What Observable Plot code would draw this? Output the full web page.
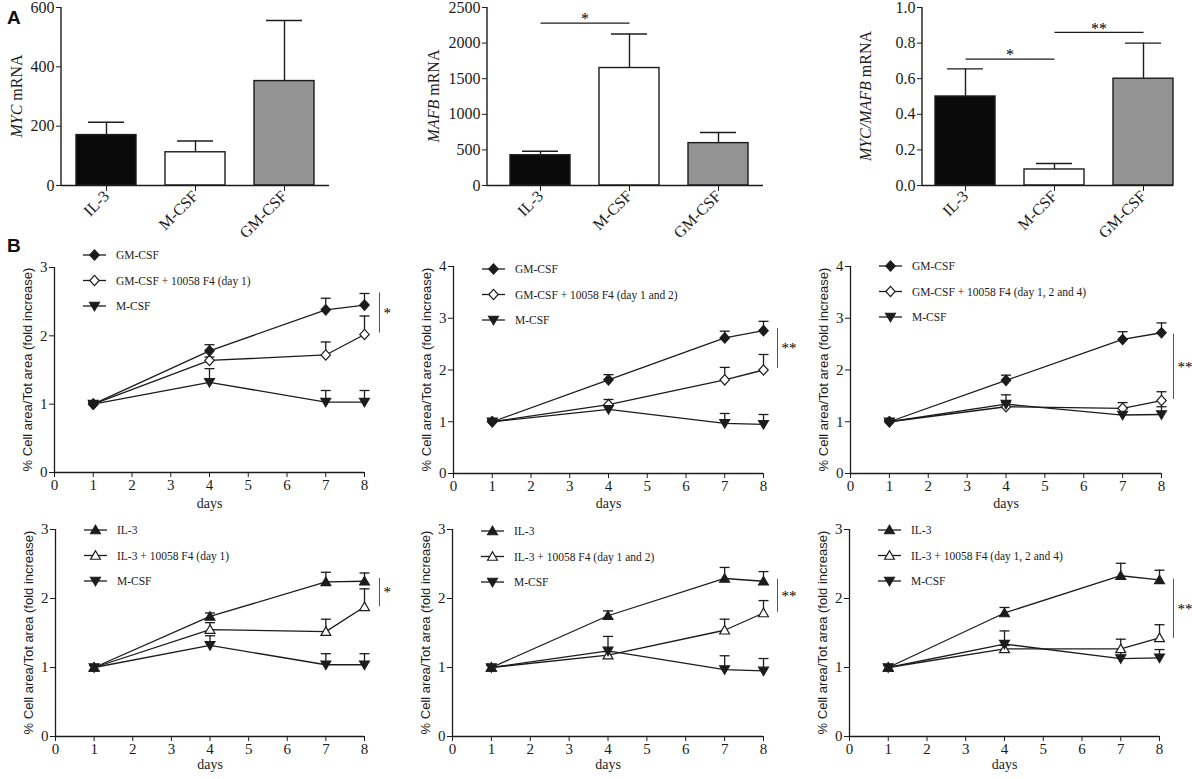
<!DOCTYPE html>
<html><head><meta charset="utf-8">
<script src="https://cdn.jsdelivr.net/npm/d3@7"></script>
<script src="https://cdn.jsdelivr.net/npm/@observablehq/plot@0.6"></script>
<style>
body{margin:0;background:#fff;}
#fig{position:relative;width:1192px;height:779px;overflow:hidden;background:#fff;}
.letter{position:absolute;font:bold 19px "Liberation Sans",Arial,sans-serif;color:#111;line-height:1;}
</style></head><body><div id="fig"></div><script>
// ---------------- DATA ----------------
const cats = ["IL-3", "M-CSF", "GM-CSF"];
const catFill = ["#0a0a0a", "#ffffff", "#949494"];
const mycMean = [170, 112, 352];
const mycSem = [43, 38, 204];
const mafbMean = [425, 1650, 595];
const mafbSem = [55, 478, 150];
const ratioMean = [0.50, 0.09, 0.60];
const ratioSem = [0.155, 0.034, 0.20];
const mycTicks = [0, 200, 400, 600];
const mafbTicks = [0, 500, 1000, 1500, 2000, 2500];
const ratioTicks = [0, 0.2, 0.4, 0.6, 0.8, 1.0];

const days = [1, 4, 7, 8];
const dayTicks = [0, 1, 2, 3, 4, 5, 6, 7, 8];
const yTicks3 = [0, 1, 2, 3];
const yTicks4 = [0, 1, 2, 3, 4];

// panel B1: GM-CSF, day 1
const p1Names = ["GM-CSF", "GM-CSF + 10058 F4 (day 1)", "M-CSF"];
const p1MainMean = [1, 1.78, 2.38, 2.45], p1MainSem = [0.03, 0.09, 0.17, 0.17];
const p1F4Mean = [1, 1.64, 1.72, 2.02],   p1F4Sem = [0.03, 0.05, 0.19, 0.27];
const p1MMean = [1, 1.32, 1.03, 1.03],    p1MSem = [0.03, 0.20, 0.17, 0.17];
// panel B2: GM-CSF, day 1 and 2
const p2Names = ["GM-CSF", "GM-CSF + 10058 F4 (day 1 and 2)", "M-CSF"];
const p2MainMean = [1, 1.81, 2.62, 2.76], p2MainSem = [0.03, 0.10, 0.13, 0.18];
const p2F4Mean = [1, 1.33, 1.81, 2.00],   p2F4Sem = [0.03, 0.10, 0.24, 0.30];
const p2MMean = [1, 1.24, 0.97, 0.95],    p2MSem = [0.03, 0.08, 0.19, 0.19];
// panel B3: GM-CSF, day 1, 2 and 4
const p3Names = ["GM-CSF", "GM-CSF + 10058 F4 (day 1, 2 and 4)", "M-CSF"];
const p3MainMean = [1, 1.80, 2.59, 2.72], p3MainSem = [0.03, 0.10, 0.15, 0.19];
const p3F4Mean = [1, 1.29, 1.26, 1.41],   p3F4Sem = [0.03, 0.08, 0.11, 0.17];
const p3MMean = [1, 1.34, 1.13, 1.14],    p3MSem = [0.03, 0.18, 0.12, 0.15];
// panel B4: IL-3, day 1
const p4Names = ["IL-3", "IL-3 + 10058 F4 (day 1)", "M-CSF"];
const p4MainMean = [1, 1.74, 2.24, 2.25], p4MainSem = [0.03, 0.05, 0.14, 0.12];
const p4F4Mean = [1, 1.55, 1.52, 1.88],   p4F4Sem = [0.03, 0.10, 0.18, 0.26];
const p4MMean = [1, 1.32, 1.04, 1.04],    p4MSem = [0.03, 0.14, 0.16, 0.16];
// panel B5: IL-3, day 1 and 2
const p5Names = ["IL-3", "IL-3 + 10058 F4 (day 1 and 2)", "M-CSF"];
const p5MainMean = [1, 1.75, 2.29, 2.25], p5MainSem = [0.03, 0.07, 0.16, 0.14];
const p5F4Mean = [1, 1.18, 1.54, 1.79],   p5F4Sem = [0.03, 0.05, 0.16, 0.18];
const p5MMean = [1, 1.24, 0.97, 0.95],    p5MSem = [0.03, 0.21, 0.20, 0.18];
// panel B6: IL-3, day 1, 2 and 4
const p6Names = ["IL-3", "IL-3 + 10058 F4 (day 1, 2 and 4)", "M-CSF"];
const p6MainMean = [1, 1.79, 2.33, 2.27], p6MainSem = [0.03, 0.08, 0.18, 0.14];
const p6F4Mean = [1, 1.27, 1.27, 1.43],   p6F4Sem = [0.03, 0.05, 0.14, 0.19];
const p6MMean = [1, 1.34, 1.13, 1.14],    p6MSem = [0.03, 0.19, 0.10, 0.12];

// significance brackets (y range) for line panels
const sig1 = [2.04, 2.63], sig2 = [2.03, 2.80], sig3 = [1.43, 2.69];
const sig4 = [1.88, 2.29], sig5 = [1.80, 2.28], sig6 = [1.42, 2.28];

const xLabel = "days";
const yLabelLine = "% Cell area/Tot area (fold increase)";

// ---------------- STYLE ----------------
const INK = "#1c1c1c";
const SERIF = '"Liberation Serif", serif';
const SANS = '"Liberation Sans", sans-serif';

const symDiamond = {draw(ctx, size){ const r = Math.sqrt(size/Math.PI); ctx.moveTo(0,-r*1.1); ctx.lineTo(r,0); ctx.lineTo(0,r*1.1); ctx.lineTo(-r,0); ctx.closePath(); }};
const symTriUp = {draw(ctx, size){ const r = Math.sqrt(size/Math.PI); ctx.moveTo(0,-r); ctx.lineTo(r*1.05,r*0.8); ctx.lineTo(-r*1.05,r*0.8); ctx.closePath(); }};
const symTriDown = {draw(ctx, size){ const r = Math.sqrt(size/Math.PI); ctx.moveTo(0,r); ctx.lineTo(r*1.05,-r*0.8); ctx.lineTo(-r*1.05,-r*0.8); ctx.closePath(); }};
const symCap = {draw(ctx, size){ const r = Math.sqrt(size/Math.PI); ctx.moveTo(-r,0); ctx.lineTo(r,0); }};

const fig = document.getElementById("fig");
function place(node, left, top){
  node.style.position = "absolute"; node.style.left = left + "px"; node.style.top = top + "px";
  node.style.maxWidth = "none";
  // force serif on every text, then sans on the marked titles
  d3.select(node).selectAll("text").style("font-family", SERIF);
  d3.select(node).selectAll("text.sans").style("font-family", SANS);
  fig.appendChild(node);
}
function letter(t, x, y){ const d = document.createElement("div"); d.className = "letter"; d.textContent = t; d.style.left = x+"px"; d.style.top = y+"px"; fig.appendChild(d); }

// ---------------- BAR PANELS ----------------
function barPanel(c){
  const rows = cats.map((cat, i) => ({cat, mean: c.mean[i], top: c.mean[i] + c.sem[i], fill: catFill[i]}));
  const pi = 0.326;
  const band = d3.scaleBand().domain(cats).range(c.range).paddingInner(pi).paddingOuter(c.po);
  const half = band.step() / 2;
  const marks = [
    Plot.ruleX(rows, {x: "cat", y1: "mean", y2: "top", stroke: INK, strokeWidth: 1.4}),
    Plot.tickY(rows, {x: "cat", y: "top", insetLeft: 12, insetRight: 12, stroke: INK, strokeWidth: 1.4}),
    Plot.barY(rows, {x: "cat", y: "mean", fill: "fill", stroke: INK, strokeWidth: 1.4}),
    Plot.ruleY([0], {stroke: INK, strokeWidth: 1.4}),
    Plot.axisY({ticks: c.ticks, tickFormat: c.fmt, tickSize: 5, tickPadding: 2, fontSize: 16, label: null}),
    Plot.axisX({tickRotate: -45, tickSize: 6, tickPadding: 2, fontSize: 16, label: null})
  ];
  c.sig.forEach(s => {
    marks.push(Plot.link([s], {x1: "a", x2: "b", y1: "y", y2: "y", stroke: INK, strokeWidth: 1.2}));
    marks.push(Plot.text([s], {x: "a", y: "y", text: "label", dx: half, dy: -4, fontSize: 16, fill: "#000"}));
  });
  const svg = Plot.plot({
    width: c.width, height: 245,
    marginLeft: c.ml, marginRight: c.mr, marginTop: 7, marginBottom: 60,
    x: {type: "band", domain: cats, range: c.range, paddingInner: pi, paddingOuter: c.po, label: null},
    y: {domain: [0, c.ymax], label: null},
    color: {type: "identity"},
    style: {fontSize: "15px", color: INK, background: "transparent", overflow: "visible"},
    marks
  });
  const s = d3.select(svg);
  s.append("line").attr("x1", c.ml).attr("x2", c.ml).attr("y1", 7).attr("y2", 185)
    .attr("stroke", INK).attr("stroke-width", 1.4);
  const t = s.append("text").attr("transform", `translate(${c.lx},96) rotate(-90)`)
    .attr("text-anchor", "middle").attr("font-size", 16).attr("fill", INK);
  c.label.forEach(([txt, it]) => t.append("tspan").attr("font-style", it ? "italic" : "normal").text(txt));
  place(svg, c.left, 0);
}

barPanel({left: 0, width: 340, ml: 61, mr: 11, range: [61, 329], po: 0.168, ymax: 600, ticks: mycTicks, fmt: d3.format("d"),
  mean: mycMean, sem: mycSem, lx: 22, label: [["MYC", true], [" mRNA", false]], sig: []});
barPanel({left: 400, width: 380, ml: 87, mr: 17, range: [95, 363], po: 0.168, ymax: 2500, ticks: mafbTicks, fmt: d3.format("d"),
  mean: mafbMean, sem: mafbSem, lx: 39, label: [["MAFB", true], [" mRNA", false]],
  sig: [{a: "IL-3", b: "M-CSF", y: 2280, label: "*"}]});
barPanel({left: 800, width: 392, ml: 122, mr: 19, range: [135, 373], po: 0, ymax: 1.0, ticks: ratioTicks, fmt: d3.format(".1f"),
  mean: ratioMean, sem: ratioSem, lx: 71, label: [["MYC/MAFB", true], [" mRNA", false]],
  sig: [{a: "IL-3", b: "M-CSF", y: 0.71, label: "*"}, {a: "M-CSF", b: "GM-CSF", y: 0.86, label: "**"}]});

// ---------------- LINE PANELS ----------------
function linePanel(c){
  const rows = [];
  c.series.forEach((s, si) => s.mean.forEach((m, i) => rows.push({series: s.name, si, day: days[i], mean: m, top: m + s.sem[i]})));
  const marks = [
    Plot.ruleX([0], {y1: 0, y2: c.ymax, stroke: INK, strokeWidth: 1.3}),
    Plot.ruleY([0], {x1: 0, x2: 8, stroke: INK, strokeWidth: 1.3}),
    Plot.axisY({ticks: c.yticks, tickFormat: d3.format("d"), tickSize: 5, tickPadding: 2, fontSize: 15, label: null}),
    Plot.axisX({ticks: dayTicks, tickFormat: d3.format("d"), tickSize: 5, tickPadding: 2, fontSize: 15, label: null}),
    Plot.text([xLabel], {frameAnchor: "bottom", dy: c.daysDy, fontSize: 14, fill: INK}),
    Plot.line(rows, {x: "day", y: "mean", z: "series", stroke: INK, strokeWidth: 1.3}),
    Plot.ruleX(rows, {x: "day", y1: "mean", y2: "top", stroke: INK, strokeWidth: 1.3}),
    Plot.dot(rows, {x: "day", y: "top", symbol: symCap, r: 5, stroke: INK, strokeWidth: 1.3, fill: "none"})
  ];
  [1, 2, 0].forEach(si => {
    const s = c.series[si];
    marks.push(Plot.dot(rows.filter(d => d.si === si), {x: "day", y: "mean", symbol: s.symbol, r: 4.7,
      fill: s.open ? "white" : INK, stroke: INK, strokeWidth: 1.2}));
  });
  marks.push(Plot.ruleX([8], {y1: c.sig[0], y2: c.sig[1], dx: c.sigDx, stroke: "#555", strokeWidth: 1}));
  marks.push(Plot.text([c.sigLabel], {x: 8, y: (c.sig[0] + c.sig[1]) / 2, dx: c.sigDx + 4, textAnchor: "start", fontSize: 15, fill: "#000"}));
  const svg = Plot.plot({
    width: c.width, height: c.height,
    marginLeft: c.ml, marginRight: c.mr, marginTop: c.mt, marginBottom: c.mb,
    x: {domain: [0, 8], label: null},
    y: {domain: [0, c.ymax], label: null},
    style: {fontSize: "15px", color: INK, background: "transparent", overflow: "visible"},
    marks
  });
  const s = d3.select(svg);
  // y axis title
  const midY = c.mt + (c.height - c.mt - c.mb) / 2;
  s.append("text").attr("class", "sans").attr("transform", `translate(${c.ml - 27},${midY}) rotate(-90)`)
    .attr("text-anchor", "middle").attr("dy", "0.35em").attr("font-size", 13)
    .attr("fill", INK).text(yLabelLine);
  // legend
  const g = s.append("g").attr("transform", `translate(${c.ml},${c.mt})`);
  c.series.forEach((sr, i) => {
    const y = c.legTop + i * 25.5;
    g.append("line").attr("x1", 29).attr("x2", 52).attr("y1", y).attr("y2", y).attr("stroke", INK).attr("stroke-width", 1.3);
    g.append("path").attr("d", d3.symbol(sr.symbol, Math.PI * 4.7 * 4.7)()).attr("transform", `translate(40.5,${y})`)
      .attr("fill", sr.open ? "white" : INK).attr("stroke", INK).attr("stroke-width", 1.2);
    g.append("text").attr("x", 62).attr("y", y).attr("dy", "0.35em").attr("font-size", 11.5)
      .attr("text-anchor", "start").attr("fill", INK).text(sr.name);
  });
  place(svg, c.left, c.top);
}

function gmSeries(names, a, as, b, bs, m, ms){
  return [
    {name: names[0], mean: a, sem: as, symbol: symDiamond, open: false},
    {name: names[1], mean: b, sem: bs, symbol: symDiamond, open: true},
    {name: names[2], mean: m, sem: ms, symbol: symTriDown, open: false}
  ];
}
function ilSeries(names, a, as, b, bs, m, ms){
  return [
    {name: names[0], mean: a, sem: as, symbol: symTriUp, open: false},
    {name: names[1], mean: b, sem: bs, symbol: symTriUp, open: true},
    {name: names[2], mean: m, sem: ms, symbol: symTriDown, open: false}
  ];
}

linePanel({left: 0, top: 245, width: 397, height: 272, ml: 54, mr: 33, mt: 22, mb: 45, ymax: 3, yticks: yTicks3, daysDy: 35,
  series: gmSeries(p1Names, p1MainMean, p1MainSem, p1F4Mean, p1F4Sem, p1MMean, p1MSem), legTop: -12, sig: sig1, sigDx: 15, sigLabel: "*"});
linePanel({left: 400, top: 245, width: 397, height: 272, ml: 53, mr: 34, mt: 21, mb: 44, ymax: 4, yticks: yTicks4, daysDy: 34,
  series: gmSeries(p2Names, p2MainMean, p2MainSem, p2F4Mean, p2F4Sem, p2MMean, p2MSem), legTop: 3, sig: sig2, sigDx: 14, sigLabel: "**"});
linePanel({left: 800, top: 245, width: 392, height: 272, ml: 50, mr: 31, mt: 21, mb: 44, ymax: 4, yticks: yTicks4, daysDy: 34,
  series: gmSeries(p3Names, p3MainMean, p3MainSem, p3F4Mean, p3F4Sem, p3MMean, p3MSem), legTop: 0, sig: sig3, sigDx: 12, sigLabel: "**"});
linePanel({left: 0, top: 517, width: 397, height: 262, ml: 55, mr: 33, mt: 12, mb: 43, ymax: 3, yticks: yTicks3, daysDy: 32,
  series: ilSeries(p4Names, p4MainMean, p4MainSem, p4F4Mean, p4F4Sem, p4MMean, p4MSem), legTop: 1, sig: sig4, sigDx: 15, sigLabel: "*"});
linePanel({left: 400, top: 517, width: 397, height: 262, ml: 52, mr: 34, mt: 12, mb: 43, ymax: 3, yticks: yTicks3, daysDy: 32,
  series: ilSeries(p5Names, p5MainMean, p5MainSem, p5F4Mean, p5F4Sem, p5MMean, p5MSem), legTop: 2, sig: sig5, sigDx: 14, sigLabel: "**"});
linePanel({left: 800, top: 517, width: 392, height: 262, ml: 49, mr: 33, mt: 12, mb: 43, ymax: 3, yticks: yTicks3, daysDy: 32,
  series: ilSeries(p6Names, p6MainMean, p6MainSem, p6F4Mean, p6F4Sem, p6MMean, p6MSem), legTop: 1, sig: sig6, sigDx: 14, sigLabel: "**"});

letter("A", 7, 8);
letter("B", 7, 236);
</script></body></html>
